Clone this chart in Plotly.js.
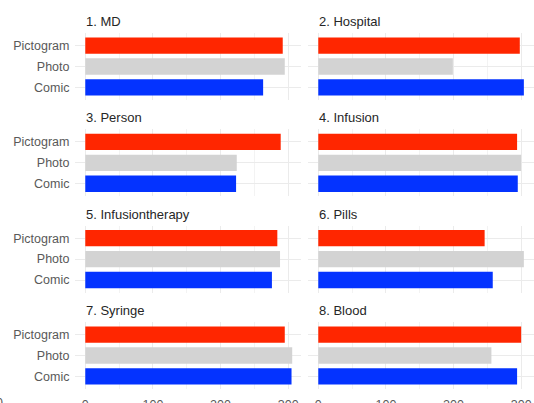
<!DOCTYPE html>
<html>
<head>
<meta charset="utf-8">
<script src="https://cdn.plot.ly/plotly-3.0.1.min.js"></script>
<style>html,body{margin:0;padding:0;background:#fff;}#chart{width:534px;height:403px;}</style>
</head>
<body>
<div id="chart"></div>
<script>
// ---- data ----
var categories = ["Pictogram", "Photo", "Comic"];
var panels = ["1. MD", "2. Hospital", "3. Person", "4. Infusion",
              "5. Infusiontherapy", "6. Pills", "7. Syringe", "8. Blood"];
var pictogram = [292, 298, 289, 294, 284, 246, 295, 300];
var photo     = [295, 199, 224, 300, 288, 304, 306, 256];
var comic     = [263, 304, 223, 295, 276, 258, 305, 294];
var tickVals   = [0, 100, 200, 300];
var tickLabels = ["0", "100", "200", "300"];
var seriesColors = {Pictogram: "#FF2600", Photo: "#D3D3D3", Comic: "#0433FF"};

// ---- layout geometry (pixels) ----
var W = 534, H = 403;
var colLeft = [[75, 301], [308, 534]];
var rowTop = [33, 129.3, 225.6, 322];
var panelH = 67;
var FONT = "Liberation Sans, Arial, Helvetica, sans-serif";

var traces = [];
var layout = {
  width: W, height: H,
  margin: {l: 0, r: 0, t: 0, b: 0},
  paper_bgcolor: "#fff", plot_bgcolor: "#fff",
  showlegend: false,
  font: {family: FONT, size: 12.5, color: "#595959"},
  annotations: []
};

panels.forEach(function (name, i) {
  var row = Math.floor(i / 2), col = i % 2;
  var sfx = i === 0 ? "" : String(i + 1);
  var vals = {Pictogram: pictogram[i], Photo: photo[i], Comic: comic[i]};
  traces.push({
    type: "bar", orientation: "h",
    y: categories,
    x: categories.map(function (c) { return vals[c]; }),
    marker: {color: categories.map(function (c) { return seriesColors[c]; })},
    width: 0.78,
    xaxis: "x" + sfx, yaxis: "y" + sfx,
    hoverinfo: "x+y"
  });
  var xd = [colLeft[col][0] / W, colLeft[col][1] / W];
  var yd = [1 - (rowTop[row] + panelH) / H, 1 - rowTop[row] / H];
  layout["xaxis" + sfx] = {
    domain: xd, anchor: "y" + sfx,
    range: [-15.2, 319],
    tickvals: tickVals, ticktext: tickLabels,
    showticklabels: row === 3,
    ticks: row === 3 ? "outside" : "", ticklen: 4, tickcolor: "rgba(0,0,0,0)",
    showgrid: true, gridcolor: "#EBEBEB", gridwidth: 1,
    minor: {dtick: 50, tick0: 0, showgrid: true, gridcolor: "#F3F3F3", gridwidth: 1},
    zeroline: false, showline: false, fixedrange: true,
    tickfont: {family: FONT, size: 12.5, color: "#595959"}
  };
  layout["yaxis" + sfx] = {
    domain: yd, anchor: "x" + sfx,
    type: "category",
    categoryorder: "array", categoryarray: ["Comic", "Photo", "Pictogram"],
    range: [-0.6, 2.6],
    showticklabels: col === 0,
    ticks: col === 0 ? "outside" : "", ticklen: 2, tickcolor: "rgba(0,0,0,0)",
    showgrid: true, gridcolor: "#EBEBEB", gridwidth: 1,
    zeroline: false, showline: false, fixedrange: true,
    tickfont: {family: FONT, size: 12.5, color: "#595959"}
  };
  layout.annotations.push({
    text: name, xref: "paper", yref: "paper",
    x: (colLeft[col][0] + 9) / W, y: 1 - (rowTop[row] - 11.5) / H,
    xanchor: "left", yanchor: "middle", showarrow: false,
    font: {family: FONT, size: 13, color: "#262626"}
  });
});

// fragment of a neighbouring panel's tick label, cut at the left edge
layout.annotations.push({
  text: "300", xref: "paper", yref: "paper",
  x: 4.5 / W, y: 1 - 402.5 / H, xanchor: "right", yanchor: "middle",
  showarrow: false, font: {family: FONT, size: 12.5, color: "#595959"}
});

Plotly.newPlot("chart", traces, layout, {displayModeBar: false, staticPlot: true});
</script>
</body>
</html>
